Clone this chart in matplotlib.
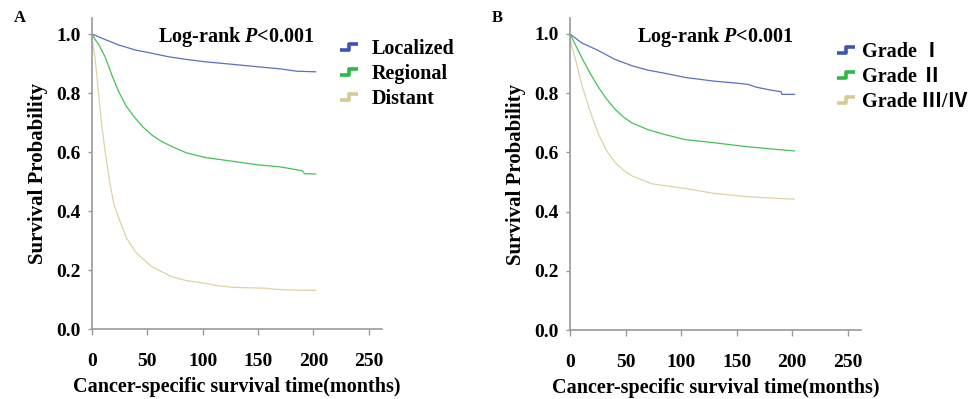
import matplotlib
matplotlib.use("Agg")
import matplotlib.pyplot as plt
from matplotlib.lines import Line2D
from matplotlib.path import Path

plt.rcParams['font.family'] = ['Liberation Serif', 'Noto Sans CJK SC', 'DejaVu Sans']
plt.rcParams['font.weight'] = 'bold'
plt.rcParams['mathtext.fontset'] = 'custom'
plt.rcParams['mathtext.it'] = 'Liberation Serif:italic:bold'
plt.rcParams['mathtext.rm'] = 'Liberation Serif:bold'

# Panel A: stage
loc_t = [0, 10, 24, 39, 50, 69, 85, 102, 125, 150, 170, 185, 202]
loc_s = [1.0, 0.984, 0.963, 0.946, 0.938, 0.923, 0.914, 0.906, 0.898, 0.889, 0.882, 0.874, 0.872]
reg_t = [0, 3, 6, 12, 18, 24, 31, 39, 46, 54, 62, 72, 85, 102, 125, 150, 170, 190, 192, 202]
reg_s = [1.0, 0.98, 0.965, 0.921, 0.86, 0.805, 0.755, 0.715, 0.685, 0.658, 0.638, 0.619,
         0.598, 0.582, 0.57, 0.557, 0.55, 0.537, 0.527, 0.526]
dis_t = [0, 1, 2.7, 5.7, 8.7, 11.8, 16.3, 20, 24, 31, 39, 46, 54, 63, 72, 85, 102, 113,
         128, 158, 164, 176, 202]
dis_s = [0.99, 0.96, 0.92, 0.806, 0.693, 0.603, 0.49, 0.42, 0.378, 0.31, 0.263, 0.238,
         0.212, 0.195, 0.178, 0.165, 0.156, 0.148, 0.142, 0.139, 0.136, 0.133, 0.132]

# Panel B: grade
g1_t = [0, 10.5, 25.6, 40, 55.6, 70, 85.7, 104, 129, 150, 160, 168, 180, 190, 191, 202]
g1_s = [1.0, 0.97, 0.944, 0.915, 0.893, 0.878, 0.867, 0.853, 0.841, 0.834, 0.83, 0.82,
        0.811, 0.805, 0.796, 0.796]
g2_t = [0, 4, 10.5, 18, 25.6, 33, 40.6, 48, 55.6, 70, 85.7, 104, 129, 160, 180, 202]
g2_s = [1.0, 0.97, 0.921, 0.868, 0.82, 0.78, 0.746, 0.72, 0.70, 0.677, 0.66, 0.643,
        0.633, 0.619, 0.612, 0.605]
g3_t = [0, 1.5, 4.5, 10.5, 18, 25.6, 33, 40.6, 48, 55.6, 73.7, 104, 129, 160, 180, 202]
g3_s = [0.99, 0.96, 0.921, 0.83, 0.74, 0.662, 0.605, 0.566, 0.54, 0.521, 0.494, 0.478,
        0.462, 0.45, 0.446, 0.442]

x_ticks = [0, 50, 100, 150, 200, 250]
y_ticks = [0.0, 0.2, 0.4, 0.6, 0.8, 1.0]

line_colors = ['#5a6fc0', '#45c158', '#dcd3a4']
icon_colors = ['#3f53b5', '#2fb84a', '#d6cb93']

panels = [
    ('A', [0.0947, 0.1747, 0.2984, 0.78],
     [(loc_t, loc_s), (reg_t, reg_s), (dis_t, dis_s)],
     ['Localized', 'Regional', 'Distant'], (0.824, 0.958), 0.6),
    ('B', [0.5864, 0.1729, 0.2994, 0.782],
     [(g1_t, g1_s), (g2_t, g2_s), (g3_t, g3_s)],
     ['Grade \u2160', 'Grade \u2161', 'Grade \u2162/\u2163'], (0.887, 0.95), 0.3),
]

step_marker = Path([(-1, -0.35), (0, -0.35), (0, 0.35), (1, 0.35)],
                   [Path.MOVETO, Path.LINETO, Path.LINETO, Path.LINETO])

fig = plt.figure(figsize=(9.72, 3.99), dpi=100)
for letter, rect, series, names, leg_pos, text_pad in panels:
    ax = fig.add_axes(rect)
    for (t, s), c in zip(series, line_colors):
        ax.plot(t, s, color=c, lw=0.9)
    ax.set_xlim(0, 262)
    ax.set_ylim(0, 1.054)
    ax.set_xticks(x_ticks)
    ax.set_yticks(y_ticks)
    ax.set_yticklabels(['%.1f' % v for v in y_ticks])
    for sp in ['top', 'right']:
        ax.spines[sp].set_visible(False)
    for sp in ['left', 'bottom']:
        ax.spines[sp].set_color('#9a9a9a')
        ax.spines[sp].set_linewidth(1.2)
    ax.tick_params(axis='x', colors='#9a9a9a', length=4, width=1, pad=13,
                   labelcolor='black', labelsize=14)
    ax.tick_params(axis='y', colors='#9a9a9a', length=3, width=1, pad=5,
                   labelcolor='black', labelsize=14)
    for lab in ax.get_xticklabels() + ax.get_yticklabels():
        lab.set_fontweight('bold')
    ax.set_xlabel('Cancer-specific survival time(months)', fontsize=14.5,
                  fontweight='bold', labelpad=5)
    ax.set_ylabel('Survival Probability', fontsize=15, fontweight='bold', labelpad=6)
    ax.text(201, 0.99, r'Log-rank $\mathit{P}$<0.001', ha='right', va='center',
            fontsize=14.5, fontweight='bold')
    ax.text(-0.27, 1.0, letter, transform=ax.transAxes, fontsize=12,
            fontweight='bold', ha='left', va='center')
    handles = [Line2D([], [], linestyle='none', marker=step_marker, markersize=13,
                      markerfacecolor='none', markeredgecolor=c, markeredgewidth=2.6)
               for c in icon_colors]
    leg = ax.legend(handles, names, loc='upper left', bbox_to_anchor=leg_pos,
                    frameon=False, fontsize=14.5, handlelength=1.0,
                    handletextpad=text_pad, labelspacing=0.25, borderaxespad=0)
    for txt in leg.get_texts():
        txt.set_fontweight('bold')

fig.savefig('out.png', dpi=100)
